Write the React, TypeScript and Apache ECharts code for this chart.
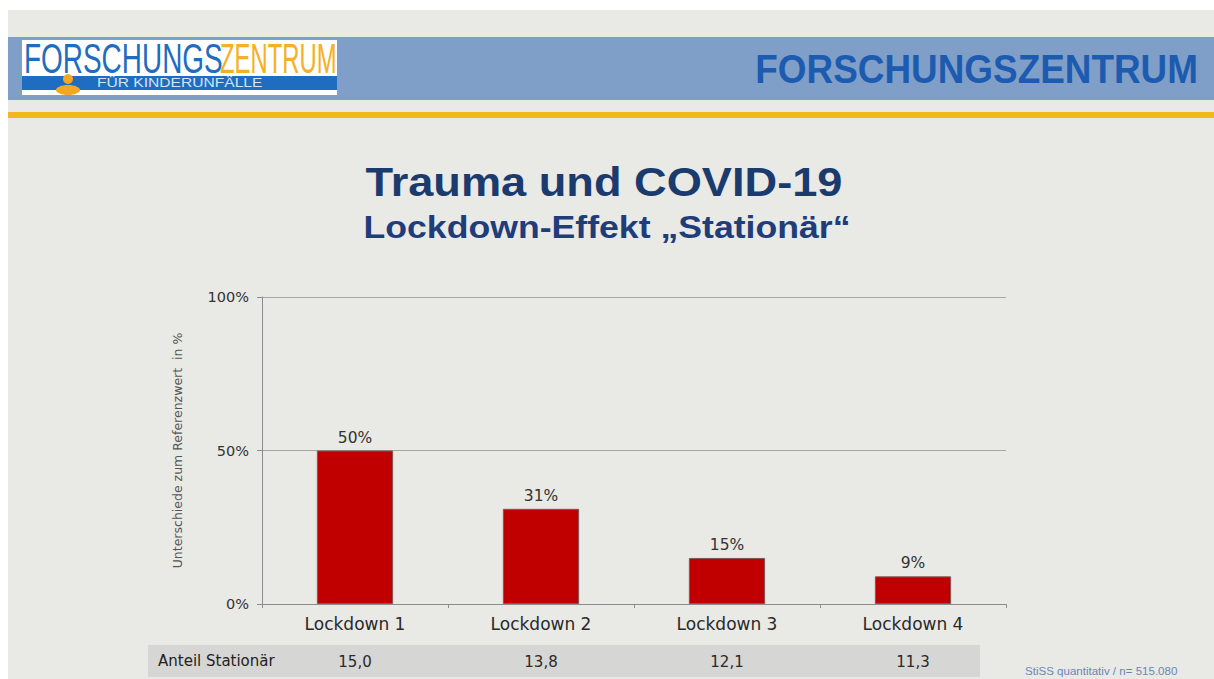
import React, { useEffect, useRef } from "react";
import * as echarts from "echarts";

const categories = ["Lockdown 1", "Lockdown 2", "Lockdown 3", "Lockdown 4"];
const effectValues = [50, 31, 15, 9];
const anteilStationaer = ["15,0", "13,8", "12,1", "11,3"];
const yTicks = { min: 0, max: 100, interval: 50 };

const title = "Trauma und COVID-19";
const subtitle = "Lockdown-Effekt \u201EStation\u00E4r\u201C";
const yAxisName = "Unterschiede zum Referenzwert  in %";
const tableRowLabel = "Anteil Station\u00E4r";
const footerText = "StiSS quantitativ / n= 515.080";

export default function App() {
  const ref = useRef<HTMLDivElement>(null);
  useEffect(() => {
    if (!ref.current) return;
    const chart = echarts.init(ref.current, null, { renderer: "svg" });
    const font = "'Liberation Sans', Arial, sans-serif";
    const wide = "'DejaVu Sans', Verdana, sans-serif";
    chart.setOption({
      animation: false,
      backgroundColor: "#ffffff",
      textStyle: { fontFamily: wide },
      grid: { left: 262, right: 208, top: 297, bottom: 75, containLabel: false },
      xAxis: [
        {
          type: "category",
          data: categories,
          axisLine: { lineStyle: { color: "#8c8c8c" } },
          axisTick: { show: true, lineStyle: { color: "#8c8c8c" }, length: 4 },
          axisLabel: { color: "#2a2a2a", fontSize: 17, margin: 11, fontFamily: wide },
        },
        {
          type: "category",
          data: anteilStationaer,
          position: "bottom",
          offset: 42,
          axisLine: { show: false },
          axisTick: { show: false },
          axisLabel: { color: "#2a2a2a", fontSize: 15, margin: 8, fontFamily: wide },
        },
      ],
      yAxis: {
        type: "value",
        min: yTicks.min,
        max: yTicks.max,
        interval: yTicks.interval,
        name: yAxisName,
        nameLocation: "middle",
        nameRotate: 90,
        nameGap: 78,
        nameTextStyle: { color: "#555", fontSize: 12.5, fontFamily: wide },
        axisLine: { show: true, lineStyle: { color: "#8c8c8c" } },
        axisTick: { show: true, length: 5, lineStyle: { color: "#8c8c8c" } },
        axisLabel: { formatter: "{value}%", color: "#333", fontSize: 14.5, margin: 13, fontFamily: wide },
        splitLine: { show: true, lineStyle: { color: "#a6a6a6" } },
      },
      series: [
        {
          type: "bar",
          data: effectValues,
          barWidth: "41%",
          itemStyle: { color: "#c00000", borderColor: "#7a5a5a", borderWidth: 1 },
          label: {
            show: true,
            position: "top",
            formatter: "{c}%",
            color: "#333",
            fontSize: 15.5,
            distance: 5,
            fontFamily: wide,
          },
        },
      ],
      graphic: [
        { type: "rect", z: -10, shape: { x: 8, y: 10, width: 1206, height: 669 }, style: { fill: "#e9e9e5" } },
        { type: "rect", z: -9, shape: { x: 8, y: 37, width: 1206, height: 63 }, style: { fill: "#7f9fc8" } },
        { type: "rect", z: -9, shape: { x: 8, y: 112, width: 1206, height: 6 }, style: { fill: "#f2b71a" } },
        // logo
        { type: "rect", z: -8, shape: { x: 22, y: 40, width: 315, height: 55 }, style: { fill: "#ffffff" } },
        { type: "rect", z: -7, shape: { x: 22, y: 76, width: 315, height: 14 }, style: { fill: "#1f6dc0" } },
        {
          type: "text", x: 24, y: 37, scaleX: 0.65, z: 5,
          style: { text: "FORSCHUNGS", fill: "#1f6dc0", fontSize: 43, fontFamily: font, textVerticalAlign: "top" },
        },
        {
          type: "text", x: 220, y: 37, scaleX: 0.555, z: 5,
          style: { text: "ZENTRUM", fill: "#f5b025", fontSize: 43, fontFamily: font, textVerticalAlign: "top" },
        },
        {
          type: "text", x: 97, y: 77, scaleX: 1.3, z: 5,
          style: { text: "F\u00DCR KINDERUNF\u00C4LLE", fill: "#d6e4f5", fontSize: 12, fontFamily: font, textVerticalAlign: "top" },
        },
        { type: "circle", z: 6, shape: { cx: 68, cy: 79, r: 5 }, style: { fill: "#f5a623" } },
        { type: "ellipse", z: 6, shape: { cx: 68, cy: 90, rx: 12, ry: 5 }, style: { fill: "#f5a623" } },
        // right header text
        {
          type: "text", x: 1198, y: 69, scaleX: 0.9, z: 5,
          style: { text: "FORSCHUNGSZENTRUM", fill: "#1d5bb0", fontSize: 41, fontWeight: "bold", fontFamily: font, textAlign: "right", textVerticalAlign: "middle" },
        },
        // titles
        {
          type: "text", x: 604, y: 182, scaleX: 1.13, z: 5,
          style: { text: title, fill: "#1b3a6e", fontSize: 40, fontWeight: "bold", fontFamily: font, textAlign: "center", textVerticalAlign: "middle" },
        },
        {
          type: "text", x: 607, y: 227, scaleX: 1.15, z: 5,
          style: { text: subtitle, fill: "#1f3d7a", fontSize: 31, fontWeight: "bold", fontFamily: font, textAlign: "center", textVerticalAlign: "middle" },
        },
        // table row
        { type: "rect", z: -5, shape: { x: 148, y: 645, width: 832, height: 32 }, style: { fill: "#d6d6d4" } },
        {
          type: "text", x: 158, y: 661, z: 5,
          style: { text: tableRowLabel, fill: "#222", fontSize: 15, fontFamily: wide, textVerticalAlign: "middle" },
        },
        {
          type: "text", x: 1025, y: 671, scaleX: 1.05, z: 5,
          style: { text: footerText, fill: "#6a86b8", fontSize: 11, fontFamily: font, textVerticalAlign: "middle" },
        },
      ],
    });
    return () => chart.dispose();
  }, []);
  return (
    <div
      ref={ref}
      style={{ position: "absolute", left: 0, top: 0, width: 1214, height: 679 }}
    />
  );
}
